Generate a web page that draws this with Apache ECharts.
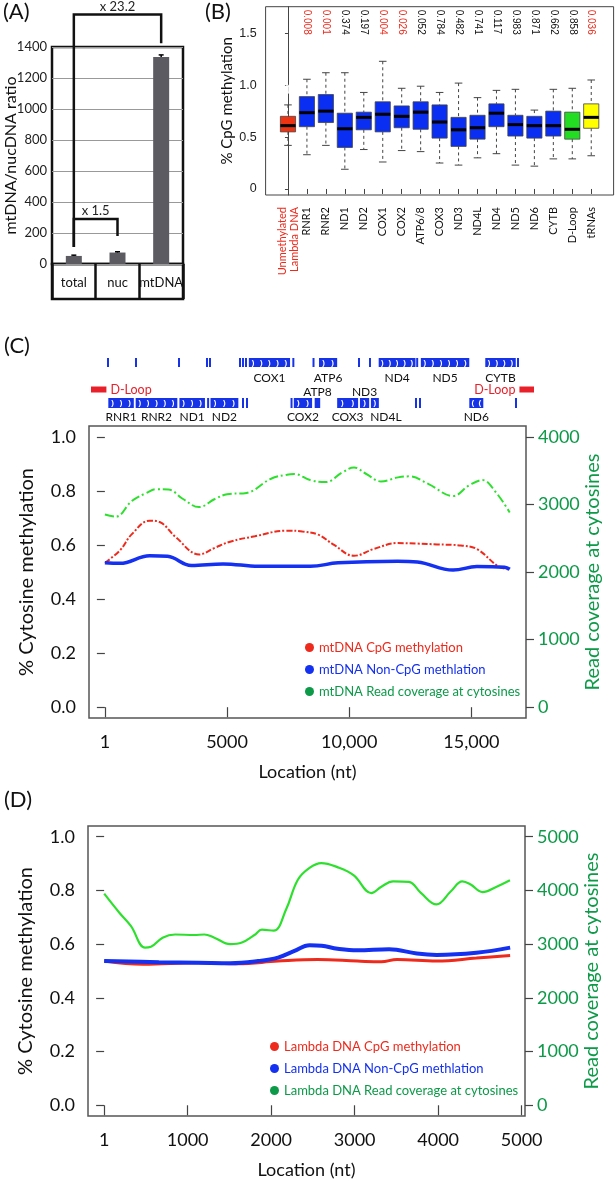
<!DOCTYPE html>
<html><head><meta charset="utf-8">
<script src="https://cdn.jsdelivr.net/npm/echarts@6/dist/echarts.min.js"></script>
<style>html,body{margin:0;padding:0;background:#fff}#c{width:615px;height:1181px}</style>
</head><body><div id="c"></div>
<script>
// ---------------- Panel A data ----------------
const aCategories = ['total', 'nuc', 'mtDNA'];
const aRatio = [52, 74, 1335];
const aError = [5, 5, 14];
const aFoldLabels = ['x 23.2', 'x 1.5'];
const aFoldPairs = [[0, 2], [0, 1]];

// ---------------- Panel B data ----------------
const bCategories = ['Unmethylated\nLambda DNA','RNR1','RNR2','ND1','ND2','COX1','COX2','ATP6/8','COX3','ND3','ND4L','ND4','ND5','ND6','CYTB','D-Loop','tRNAs'];
const bMin =    [0.42, 0.33, 0.42, 0.19, 0.38, 0.26, 0.37, 0.36, 0.25, 0.23, 0.30, 0.34, 0.23, 0.22, 0.29, 0.29, 0.32];
const bQ1 =     [0.55, 0.60, 0.64, 0.40, 0.57, 0.55, 0.59, 0.575,0.49, 0.41, 0.48, 0.60, 0.51, 0.49, 0.51, 0.48, 0.585];
const bMedian = [0.61, 0.735,0.75, 0.58, 0.69, 0.72, 0.70, 0.74, 0.645,0.57, 0.59, 0.73, 0.62, 0.61, 0.61, 0.575,0.69];
const bQ3 =     [0.70, 0.89, 0.91, 0.73, 0.74, 0.84, 0.80, 0.84, 0.81, 0.69, 0.71, 0.82, 0.71, 0.70, 0.75, 0.74, 0.82];
const bMax =    [0.81, 1.057,1.12, 1.12, 0.93, 1.23, 0.97, 0.99, 0.93, 1.02, 0.88, 0.95, 0.96, 0.76, 0.96, 0.97, 1.05];
const bOutliers = [[0,0.96],[4,1.13],[6,1.40],[11,0.25],[13,1.04],[14,0.17],[14,0.14],[15,1.19]];
const bPValues = ['', '0.008','0.001','0.374','0.197','0.004','0.026','0.052','0.784','0.482','0.741','0.117','0.983','0.871','0.662','0.858','0.036'];
const bYTicks = [0, 0.5, 1.0, 1.5];

// ---------------- Panel C data ----------------
const mtGenomeLength = 16569;
const geneNames  = ['RNR1','RNR2','ND1','ND2','COX1','COX2','ATP8','ATP6','COX3','ND3','ND4L','ND4','ND5','ND6','CYTB'];
const geneStart  = [648, 1671, 3307, 4470, 5904, 7586, 8366, 8527, 9207, 10059, 10470, 10760, 12337, 14149, 14747];
const geneEnd    = [1601, 3229, 4262, 5511, 7445, 8269, 8572, 9207, 9990, 10404, 10766, 12137, 14148, 14673, 15887];
const geneTrack  = ['lower','lower','lower','lower','upper','lower','lower','upper','lower','lower','lower','upper','upper','lower','upper'];
const geneStrand = [1,1,1,1,1,1,1,1,1,1,1,1,1,-1,1];
const upperTrnaSites = [636, 1683, 3291, 4338, 4450, 5572, 5685, 5797, 7568, 8322, 10023, 10434, 12200, 15970];
const lowerTrnaSites = [4380, 5685, 5835, 7500, 12155, 12305, 15895];
const dLoopSegments = [[1, 576], [16024, 16569]];
const cXTicks = [1, 5000, 10000, 15000];
const cXTickLabels = ['1', '5000', '10,000', '15,000'];
const cYTicks = [0, 0.2, 0.4, 0.6, 0.8, 1.0];
const cCoverageTicks = [0, 1000, 2000, 3000, 4000];
const cCpG = [[1,0.534],[617,0.58],[1104,0.64],[1834,0.69],[2240,0.685],[2890,0.63],[3863,0.565],[4512,0.59],[5161,0.613],[6135,0.632],[7434,0.653],[8083,0.65],[8732,0.638],[9381,0.60],[10193,0.56],[11004,0.585],[11979,0.607],[12790,0.605],[13601,0.602],[14575,0.598],[15224,0.585],[16117,0.52],[16569,0.51]];
const cNonCpG = [[1,0.534],[617,0.532],[1834,0.56],[2565,0.558],[3540,0.524],[4836,0.53],[6297,0.521],[8408,0.521],[9544,0.534],[11979,0.54],[12790,0.537],[14252,0.507],[15224,0.52],[16360,0.518],[16569,0.51]];
const cCoverage = [[1,2850],[450,2820],[1100,3050],[1700,3170],[2100,3225],[2600,3220],[3200,3080],[3850,2960],[4500,3080],[5000,3150],[5800,3170],[6800,3380],[7450,3440],[7750,3450],[8400,3360],[9050,3330],[9700,3470],[10200,3545],[10700,3450],[11300,3340],[12000,3400],[12450,3415],[13250,3300],[14250,3125],[14900,3280],[15450,3360],[16000,3180],[16569,2880]];

// ---------------- Panel D data ----------------
const dXTicks = [1, 1000, 2000, 3000, 4000, 5000];
const dXTickLabels = ['1', '1000', '2000', '3000', '4000', '5000'];
const dCoverageTicks = [0, 1000, 2000, 3000, 4000, 5000];
const dCpG = [[1,0.537],[466,0.525],[1131,0.531],[1606,0.527],[2082,0.537],[2557,0.543],[3032,0.537],[3318,0.534],[3508,0.543],[3983,0.537],[4458,0.548],[4862,0.558]];
const dNonCpG = [[1,0.537],[656,0.533],[1131,0.531],[1511,0.529],[1844,0.537],[2082,0.55],[2272,0.574],[2462,0.596],[2605,0.594],[2795,0.583],[3032,0.577],[3413,0.581],[3745,0.565],[3983,0.56],[4458,0.568],[4862,0.587]];
const dCoverage = [[1,3940],[180,3590],[320,3340],[490,2935],[560,2950],[700,3120],[850,3180],[1080,3170],[1200,3180],[1320,3120],[1510,3000],[1650,3030],[1800,3170],[1890,3270],[2030,3250],[2180,3650],[2320,4200],[2460,4420],[2600,4510],[2800,4430],[2990,4280],[3200,3950],[3320,4070],[3460,4170],[3650,4160],[3790,3960],[3980,3740],[4150,3980],[4290,4170],[4390,4110],[4530,3970],[4700,4070],[4860,4190]];

// ---------------- styles / layout ----------------
const FONT = 'Lato, "Open Sans", sans-serif';
const RED = '#ee2a1c', BLUE = '#1430f0', GREEN_LINE = '#2ee02e', GREEN_TEXT = '#0c9a48';
const bBoxColor = name => name.indexOf('Lambda') >= 0 ? '#ee3312' : name === 'D-Loop' ? '#22dd22' : name === 'tRNAs' ? '#ffff00' : '#0a2ef2';
const bracketLayout = [{top: 1610, leftFoot: 110, rightFoot: 1425}, {top: 290, leftFoot: 110, rightFoot: 180}];
const trackLayout = {upper: {top: 8, h: 9, label: 28}, lower: {top: 48, h: 10, label: 67}};
const labelAbove = {ATP8: 42.5, ND3: 42.5};
const labelShift = {ND4L: 11};
const plain = v => String(v);

const chart = echarts.init(document.getElementById('c'), null, {renderer: 'canvas', width: 615, height: 1181});

const panelLabel = (t, x, y) => ({type: 'text', left: x, top: y, style: {text: t, font: '22px Lato', fill: '#111'}});

const option = {
  animation: false,
  backgroundColor: '#fff',
  textStyle: {fontFamily: FONT},
  graphic: [panelLabel('(A)', 3, 1), panelLabel('(B)', 205, 1), panelLabel('(C)', 4, 335), panelLabel('(D)', 4, 789)],
  grid: [
    {left: 52, top: 47, width: 131, height: 217, show: true, borderColor: '#111', borderWidth: 2.5, outerBoundsMode: 'none'},
    {left: 52, top: 264, width: 131, height: 35, show: true, borderColor: '#111', borderWidth: 2.5, outerBoundsMode: 'none'},
    {left: 265.6, top: 6.7, width: 348, height: 188.3, show: true, borderColor: '#444', borderWidth: 1, outerBoundsMode: 'none'},
    {left: 91, top: 350, width: 443, height: 70, outerBoundsMode: 'none'},
    {left: 89, top: 426, width: 437, height: 292, show: true, borderColor: '#555', borderWidth: 1.5, outerBoundsMode: 'none'},
    {left: 88, top: 826, width: 437, height: 290, show: true, borderColor: '#555', borderWidth: 1.5, outerBoundsMode: 'none'}
  ],
  xAxis: [
    {gridIndex: 0, type: 'category', data: aCategories, axisLine: {show: false}, axisTick: {show: false},
      axisLabel: {interval: 0, margin: 12, fontSize: 13, color: '#111', hideOverlap: false}, splitLine: {show: false}},
    {gridIndex: 1, type: 'category', data: aCategories, axisLine: {show: false}, axisTick: {show: false},
      axisLabel: {show: false}, splitLine: {show: true, interval: 0, lineStyle: {color: '#111', width: 2.5}}},
    {gridIndex: 2, type: 'value', min: -1.18, max: 17.18, axisLine: {show: false}, splitLine: {show: false},
      axisTick: {show: true, customValues: bCategories.map((c, i) => i), length: 5, lineStyle: {color: '#444'}},
      axisLabel: {customValues: bCategories.map((c, i) => i), rotate: 90, margin: 12, fontSize: 11, lineHeight: 12,
        formatter: v => bCategories[Math.round(v)],
        color: v => (Math.round(Number(v)) === 0 ? RED : '#111')}},
    {gridIndex: 2, type: 'value', position: 'top', min: -1.18, max: 17.18, axisLine: {show: false}, axisTick: {show: false}, splitLine: {show: false},
      axisLabel: {inside: true, customValues: bPValues.map((p, i) => i).filter(i => bPValues[i] !== ''), rotate: 90, margin: 3,
        fontSize: 10, fontFamily: '"Liberation Sans", Arial, sans-serif',
        formatter: v => bPValues[Math.round(v)],
        color: v => (parseFloat(bPValues[Math.round(Number(v))]) < 0.05 ? RED : '#111')}},
    {gridIndex: 3, type: 'value', min: 0, max: mtGenomeLength, show: false},
    {gridIndex: 4, type: 'value', min: -650, max: 17235, axisLine: {show: false}, splitLine: {show: false},
      axisTick: {customValues: cXTicks, length: 10, lineStyle: {color: '#444', width: 1.2}},
      axisLabel: {customValues: cXTicks, margin: 15, fontSize: 18, color: '#111', formatter: v => cXTickLabels[cXTicks.indexOf(Number(v))]},
      name: 'Location (nt)', nameLocation: 'middle', nameGap: 45, nameMoveOverlap: false, nameTextStyle: {fontSize: 18, color: '#111'}},
    {gridIndex: 5, type: 'value', min: -193, max: 5040, axisLine: {show: false}, splitLine: {show: false},
      axisTick: {customValues: dXTicks, length: 10, lineStyle: {color: '#444', width: 1.2}},
      axisLabel: {customValues: dXTicks, margin: 15, fontSize: 18, color: '#111', formatter: v => dXTickLabels[dXTicks.indexOf(Number(v))]},
      name: 'Location (nt)', nameLocation: 'middle', nameGap: 45, nameMoveOverlap: false, nameTextStyle: {fontSize: 18, color: '#111'}}
  ],
  yAxis: [
    {gridIndex: 0, type: 'value', min: 0, max: 1400, interval: 200, axisLine: {show: false}, axisTick: {show: false},
      axisLabel: {margin: 5, fontSize: 13, color: '#222', formatter: plain}, splitLine: {show: true, lineStyle: {color: '#999', width: 1}},
      name: 'mtDNA/nucDNA ratio', nameLocation: 'middle', nameRotate: 90, nameGap: 33, nameMoveOverlap: false, nameTextStyle: {fontSize: 16, color: '#111'}},
    {gridIndex: 1, type: 'value', show: false},
    {gridIndex: 2, type: 'value', min: -0.058, max: 1.756, offset: 5, splitLine: {show: false},
      axisLine: {show: true, lineStyle: {color: '#444'}},
      axisTick: {customValues: bYTicks, length: 3, lineStyle: {color: '#444'}},
      axisLabel: {customValues: bYTicks, margin: 4, fontSize: 12.5, color: '#222', fontFamily: '"Liberation Sans", Arial, sans-serif',
        formatter: v => (Number(v) === 0 ? '0' : Number(v).toFixed(1))},
      name: '% CpG methylation', nameLocation: 'middle', nameRotate: 90, nameGap: 26, nameMoveOverlap: false, nameTextStyle: {fontSize: 15, color: '#111'}},
    {gridIndex: 3, type: 'value', min: 0, max: 70, inverse: true, show: false},
    {gridIndex: 4, type: 'value', min: -0.04, max: 1.04, axisLine: {show: false}, splitLine: {show: false},
      axisTick: {customValues: cYTicks, length: 8, lineStyle: {color: '#444', width: 1.2}},
      axisLabel: {customValues: cYTicks, margin: 13, fontSize: 18, color: '#111', formatter: v => Number(v).toFixed(1)},
      name: '% Cytosine methylation', nameLocation: 'middle', nameRotate: 90, nameGap: 52, nameMoveOverlap: false, nameTextStyle: {fontSize: 20, color: '#111'}},
    {gridIndex: 4, type: 'value', position: 'right', min: -160, max: 4160, axisLine: {show: false}, splitLine: {show: false},
      axisTick: {customValues: cCoverageTicks, length: 8, lineStyle: {color: '#444', width: 1.2}},
      axisLabel: {customValues: cCoverageTicks, margin: 12, fontSize: 18, color: GREEN_TEXT, formatter: plain},
      name: 'Read coverage at cytosines', nameLocation: 'middle', nameRotate: 90, nameGap: 57, nameMoveOverlap: false, nameTextStyle: {fontSize: 20, color: GREEN_TEXT}},
    {gridIndex: 5, type: 'value', min: -0.04, max: 1.04, axisLine: {show: false}, splitLine: {show: false},
      axisTick: {customValues: cYTicks, length: 8, lineStyle: {color: '#444', width: 1.2}},
      axisLabel: {customValues: cYTicks, margin: 13, fontSize: 18, color: '#111', formatter: v => Number(v).toFixed(1)},
      name: '% Cytosine methylation', nameLocation: 'middle', nameRotate: 90, nameGap: 52, nameMoveOverlap: false, nameTextStyle: {fontSize: 20, color: '#111'}},
    {gridIndex: 5, type: 'value', position: 'right', min: -200, max: 5200, axisLine: {show: false}, splitLine: {show: false},
      axisTick: {customValues: dCoverageTicks, length: 8, lineStyle: {color: '#444', width: 1.2}},
      axisLabel: {customValues: dCoverageTicks, margin: 12, fontSize: 18, color: GREEN_TEXT, formatter: plain},
      name: 'Read coverage at cytosines', nameLocation: 'middle', nameRotate: 90, nameGap: 57, nameMoveOverlap: false, nameTextStyle: {fontSize: 20, color: GREEN_TEXT}}
  ],
  legend: [
    {orient: 'vertical', left: 300, top: 636, itemWidth: 9, itemHeight: 9, itemGap: 9, icon: 'circle', selectedMode: false,
      textStyle: {fontSize: 13, fontFamily: FONT},
      data: [{name: 'mtDNA CpG methylation', textStyle: {color: RED}},
             {name: 'mtDNA Non-CpG methlation', textStyle: {color: BLUE}},
             {name: 'mtDNA Read coverage at cytosines', textStyle: {color: GREEN_TEXT}, itemStyle: {color: GREEN_TEXT}}]},
    {orient: 'vertical', left: 265, top: 1035, itemWidth: 9, itemHeight: 9, itemGap: 9, icon: 'circle', selectedMode: false,
      textStyle: {fontSize: 13, fontFamily: FONT},
      data: [{name: 'Lambda DNA CpG methylation', textStyle: {color: RED}},
             {name: 'Lambda DNA Non-CpG methlation', textStyle: {color: BLUE}},
             {name: 'Lambda DNA Read coverage at cytosines', textStyle: {color: GREEN_TEXT}, itemStyle: {color: GREEN_TEXT}}]}
  ],
  series: [
    // ---- Panel A ----
    {type: 'bar', xAxisIndex: 0, yAxisIndex: 0, data: aRatio, barWidth: 16, itemStyle: {color: '#5c5b61'}, silent: true},
    {type: 'custom', xAxisIndex: 0, yAxisIndex: 0, silent: true, z: 5,
      data: aCategories.map((c, i) => [i, aRatio[i], aError[i]]),
      renderItem: (params, api) => {
        const x = api.value(0), v = api.value(1), e = api.value(2);
        const t = api.coord([x, v + e]), b = api.coord([x, v]);
        return {type: 'group', children: [
          {type: 'line', shape: {x1: t[0], y1: t[1], x2: b[0], y2: b[1]}, style: {stroke: '#000', lineWidth: 1.5}},
          {type: 'line', shape: {x1: t[0] - 2.5, y1: t[1], x2: t[0] + 2.5, y2: t[1]}, style: {stroke: '#000', lineWidth: 1.5}}
        ]};
      }},
    {type: 'custom', xAxisIndex: 0, yAxisIndex: 0, silent: true, clip: false, z: 6,
      data: aFoldPairs.map((p, k) => [p[0], p[1], k]),
      renderItem: (params, api) => {
        const k = api.value(2), L = bracketLayout[k];
        const a = api.coord([api.value(0), L.top]), b = api.coord([api.value(1), L.top]);
        const af = api.coord([api.value(0), L.leftFoot]), bf = api.coord([api.value(1), L.rightFoot]);
        return {type: 'group', children: [
          {type: 'polyline', shape: {points: [af, a, b, bf]}, style: {stroke: '#111', lineWidth: 2.5, fill: null}},
          {type: 'text', style: {text: aFoldLabels[k], x: (a[0] + b[0]) / 2, y: a[1] - 8, align: 'center', verticalAlign: 'middle', font: '13px Lato', fill: '#222'}}
        ]};
      }},
    // ---- Panel B ----
    {type: 'custom', xAxisIndex: 2, yAxisIndex: 2, silent: true,
      encode: {x: 0, y: [1, 2, 3, 4, 5]},
      data: bCategories.map((c, i) => [i, bMin[i], bQ1[i], bMedian[i], bQ3[i], bMax[i]]),
      renderItem: (params, api) => {
        const i = api.value(0);
        const bw = api.size([1, 0])[0] * 0.8;
        const c = v => api.coord([i, v]);
        const pMin = c(api.value(1)), pQ1 = c(api.value(2)), pMd = c(api.value(3)), pQ3 = c(api.value(4)), pMax = c(api.value(5));
        const x = pMd[0];
        const dash = {stroke: '#444', lineWidth: 1, lineDash: [3, 3]};
        const solid = {stroke: '#444', lineWidth: 1};
        return {type: 'group', children: [
          {type: 'line', shape: {x1: x, y1: pMax[1], x2: x, y2: pQ3[1]}, style: dash},
          {type: 'line', shape: {x1: x, y1: pQ1[1], x2: x, y2: pMin[1]}, style: dash},
          {type: 'line', shape: {x1: x - bw / 4, y1: pMax[1], x2: x + bw / 4, y2: pMax[1]}, style: solid},
          {type: 'line', shape: {x1: x - bw / 4, y1: pMin[1], x2: x + bw / 4, y2: pMin[1]}, style: solid},
          {type: 'rect', shape: {x: x - bw / 2, y: pQ3[1], width: bw, height: pQ1[1] - pQ3[1]}, style: {fill: bBoxColor(bCategories[i]), stroke: '#444', lineWidth: 0.8}},
          {type: 'line', shape: {x1: x - bw / 2, y1: pMd[1], x2: x + bw / 2, y2: pMd[1]}, style: {stroke: '#000', lineWidth: 3}}
        ]};
      }},
    {type: 'scatter', xAxisIndex: 2, yAxisIndex: 2, silent: true, data: bOutliers, symbol: 'emptyCircle', symbolSize: 7,
      itemStyle: {color: '#fff', borderColor: '#333', borderWidth: 1}},
    // ---- Gene map ----
    {type: 'custom', xAxisIndex: 4, yAxisIndex: 3, silent: true, clip: false,
      data: geneNames.map((n, i) => [geneStart[i], geneEnd[i], i]),
      renderItem: (params, api) => {
        const i = api.value(2), name = geneNames[i], T = trackLayout[geneTrack[i]];
        const s = api.coord([api.value(0), 0])[0], e = api.coord([api.value(1), 0])[0];
        const y0 = api.coord([0, T.top])[1], y1 = api.coord([0, T.top + T.h])[1];
        const children = [{type: 'rect', shape: {x: s, y: y0, width: e - s, height: y1 - y0}, style: {fill: '#1633e8'}}];
        const n = Math.floor((e - s) / 7);
        for (let k = 0; k < n; k++) {
          children.push({type: 'text', style: {text: geneStrand[i] > 0 ? ')' : '(', x: s + (k + 0.5) * (e - s) / n, y: (y0 + y1) / 2,
            align: 'center', verticalAlign: 'middle', font: 'bold 8px sans-serif', fill: '#fff'}});
        }
        const ly = api.coord([0, labelAbove[name] !== undefined ? labelAbove[name] : T.label])[1];
        children.push({type: 'text', style: {text: name, x: (s + e) / 2 + (labelShift[name] || 0), y: ly, align: 'center', verticalAlign: 'middle', font: '12px Lato', fill: '#111'}});
        return {type: 'group', children: children};
      }},
    {type: 'custom', xAxisIndex: 4, yAxisIndex: 3, silent: true, clip: false,
      data: upperTrnaSites.map(p => [p, 0]).concat(lowerTrnaSites.map(p => [p, 1])),
      renderItem: (params, api) => {
        const T = api.value(1) === 0 ? trackLayout.upper : trackLayout.lower;
        const x = api.coord([api.value(0), 0])[0];
        const y0 = api.coord([0, T.top])[1], y1 = api.coord([0, T.top + T.h])[1];
        return {type: 'rect', shape: {x: x - 1, y: y0, width: 2, height: y1 - y0}, style: {fill: '#1633e8'}};
      }},
    {type: 'custom', xAxisIndex: 4, yAxisIndex: 3, silent: true, clip: false,
      data: dLoopSegments.map((s, k) => [s[0], s[1], k]),
      renderItem: (params, api) => {
        const s = api.coord([api.value(0), 0])[0], e = api.coord([api.value(1), 0])[0];
        const y0 = api.coord([0, 36.5])[1], y1 = api.coord([0, 42.5])[1];
        const leftSide = api.value(0) < mtGenomeLength / 2;
        return {type: 'group', children: [
          {type: 'rect', shape: {x: s, y: y0, width: e - s, height: y1 - y0}, style: {fill: '#e8202a'}},
          {type: 'text', style: {text: 'D-Loop', x: leftSide ? e + 4 : s - 4, y: (y0 + y1) / 2, align: leftSide ? 'left' : 'right', verticalAlign: 'middle', font: '12.5px Lato', fill: '#e8202a'}}
        ]};
      }},
    // ---- Panel C ----
    {name: 'mtDNA Read coverage at cytosines', type: 'line', xAxisIndex: 5, yAxisIndex: 5, data: cCoverage, showSymbol: false, smooth: 0.4,
      color: GREEN_LINE, lineStyle: {color: GREEN_LINE, width: 2, type: [9, 3, 2, 3]}, silent: true},
    {name: 'mtDNA CpG methylation', type: 'line', xAxisIndex: 5, yAxisIndex: 4, data: cCpG, showSymbol: false, smooth: 0.4,
      color: RED, lineStyle: {color: RED, width: 2, type: [6, 2, 2, 2]}, silent: true},
    {name: 'mtDNA Non-CpG methlation', type: 'line', xAxisIndex: 5, yAxisIndex: 4, data: cNonCpG, showSymbol: false, smooth: 0.4,
      color: BLUE, lineStyle: {color: BLUE, width: 3.5}, silent: true},
    // ---- Panel D ----
    {name: 'Lambda DNA Read coverage at cytosines', type: 'line', xAxisIndex: 6, yAxisIndex: 7, data: dCoverage, showSymbol: false, smooth: 0.4,
      color: GREEN_LINE, lineStyle: {color: GREEN_LINE, width: 2.2}, silent: true},
    {name: 'Lambda DNA CpG methylation', type: 'line', xAxisIndex: 6, yAxisIndex: 6, data: dCpG, showSymbol: false, smooth: 0.4,
      color: RED, lineStyle: {color: RED, width: 3}, silent: true},
    {name: 'Lambda DNA Non-CpG methlation', type: 'line', xAxisIndex: 6, yAxisIndex: 6, data: dNonCpG, showSymbol: false, smooth: 0.4,
      color: BLUE, lineStyle: {color: BLUE, width: 4}, silent: true}
  ]
};
chart.setOption(option);
</script></body></html>
